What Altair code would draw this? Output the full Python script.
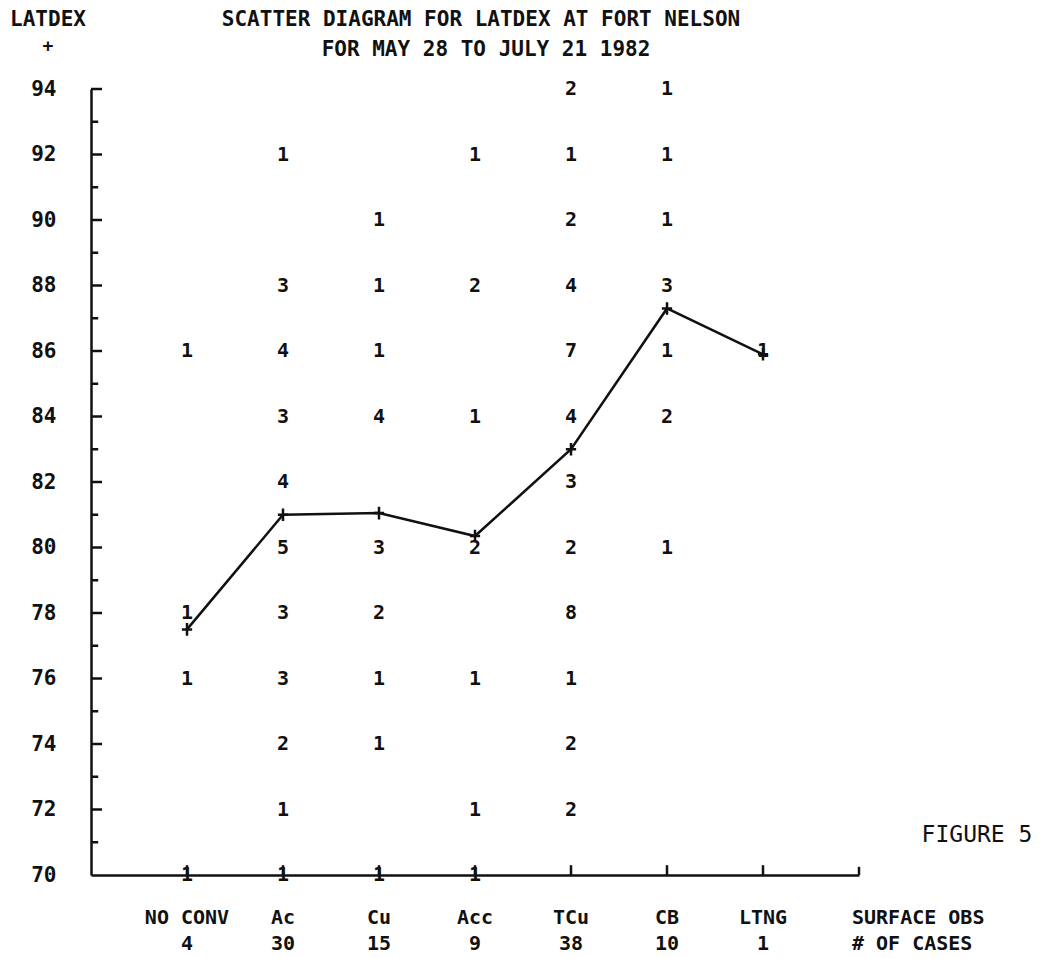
import altair as alt
import pandas as pd

# ---------------- data ----------------
categories = ["NO CONV", "Ac", "Cu", "Acc", "TCu", "CB", "LTNG"]
cases = [4, 30, 15, 9, 38, 10, 1]
mean_latdex = [77.5, 81.0, 81.05, 80.35, 83.0, 87.3, 85.9]

latdex_noconv = [86, 78, 76, 70]
count_noconv = [1, 1, 1, 1]
latdex_ac = [92, 88, 86, 84, 82, 80, 78, 76, 74, 72, 70]
count_ac = [1, 3, 4, 3, 4, 5, 3, 3, 2, 1, 1]
latdex_cu = [90, 88, 86, 84, 80, 78, 76, 74, 70]
count_cu = [1, 1, 1, 4, 3, 2, 1, 1, 1]
latdex_acc = [92, 88, 84, 80, 76, 72, 70]
count_acc = [1, 2, 1, 2, 1, 1, 1]
latdex_tcu = [94, 92, 90, 88, 86, 84, 82, 80, 78, 76, 74, 72]
count_tcu = [2, 1, 2, 4, 7, 4, 3, 2, 8, 1, 2, 2]
latdex_cb = [94, 92, 90, 88, 86, 84, 80]
count_cb = [1, 1, 1, 3, 1, 2, 1]
latdex_ltng = [86]
count_ltng = [1]

y_label_values = list(range(70, 95, 2))
y_tick_values = list(range(71, 95))

# ---------------- tables built from the arrays ----------------
cells = []
for i, (vals, cnts) in enumerate([
    (latdex_noconv, count_noconv), (latdex_ac, count_ac), (latdex_cu, count_cu),
    (latdex_acc, count_acc), (latdex_tcu, count_tcu), (latdex_cb, count_cb),
    (latdex_ltng, count_ltng)]):
    for v, c in zip(vals, cnts):
        cells.append({"pos": i + 1, "val": v, "n": str(c)})
df_cells = pd.DataFrame(cells)

df_mean = pd.DataFrame({"pos": list(range(1, len(categories) + 1)), "val": mean_latdex})
df_cat = pd.DataFrame({"pos": list(range(1, len(categories) + 1)),
                       "cat": categories, "n": [str(c) for c in cases]})

df_yt = pd.DataFrame({"val": y_tick_values,
                      "x0": [0.0] * len(y_tick_values),
                      "x1": [0.115 if v % 2 == 0 else 0.075 for v in y_tick_values]})
df_xt = pd.DataFrame({"pos": list(range(1, len(categories) + 1)) + [8],
                      "y0": [70] * (len(categories) + 1),
                      "y1": [70.3] * len(categories) + [70.25]})

FONT = "DejaVu Sans Mono"
INK = "#111111"

xscale = alt.Scale(domain=[0, 8], nice=False, zero=False)
yscale = alt.Scale(domain=[70, 94], nice=False, zero=False)

x_axis = alt.Axis(title=None, labels=False, ticks=False, tickSize=0, grid=False,
                  domain=True, domainColor=INK, domainWidth=2.5)
y_axis = alt.Axis(title=None, values=y_label_values, ticks=False, tickSize=0, grid=False,
                  domain=True, domainColor=INK, domainWidth=2.5,
                  labelFont=FONT, labelFontSize=21, labelFontWeight="bold",
                  labelColor=INK, labelPadding=35)


def X(field):
    return alt.X(field, scale=xscale, axis=x_axis)


def Y(field):
    return alt.Y(field, scale=yscale, axis=y_axis)


cell_text = alt.Chart(df_cells).mark_text(
    font=FONT, fontSize=20, fontWeight="bold", color=INK, align="center", baseline="middle"
).encode(x=X("pos:Q"), y=Y("val:Q"), text="n:N")

y_ticks = alt.Chart(df_yt).mark_rule(color=INK, strokeWidth=2.5).encode(
    x=X("x0:Q"), x2="x1:Q", y=Y("val:Q"))

x_ticks = alt.Chart(df_xt).mark_rule(color=INK, strokeWidth=2.5).encode(
    x=X("pos:Q"), y=Y("y0:Q"), y2="y1:Q")

mean_line = alt.Chart(df_mean).mark_line(color=INK, strokeWidth=2.5).encode(
    x=X("pos:Q"), y=Y("val:Q"))

mean_pts = alt.Chart(df_mean).mark_point(
    shape="M-0.9,0H0.9M0,-1.1V1.1", filled=False, color=INK, strokeWidth=2.5, size=130, opacity=1
).encode(x=X("pos:Q"), y=Y("val:Q"))

cat_text = alt.Chart(df_cat).mark_text(
    font=FONT, fontSize=20, fontWeight="bold", color=INK, align="center", baseline="middle"
).encode(x=X("pos:Q"), y=alt.value(829), text="cat:N")

n_text = alt.Chart(df_cat).mark_text(
    font=FONT, fontSize=20, fontWeight="bold", color=INK, align="center", baseline="middle"
).encode(x=X("pos:Q"), y=alt.value(855), text="n:N")

one = pd.DataFrame({"k": [0]})


def note(txt, x, y, size=21, weight="bold", align="center"):
    return alt.Chart(one).mark_text(
        text=txt, font=FONT, fontSize=size, fontWeight=weight, color=INK,
        align=align, baseline="middle"
    ).encode(x=alt.value(x), y=alt.value(y))


notes = [
    note("LATDEX", -43, -69),
    note("+", -43, -42, size=18),
    note("SCATTER DIAGRAM FOR LATDEX AT FORT NELSON", 390, -69),
    note("FOR MAY 28 TO JULY 21 1982", 395, -39),
    note("FIGURE 5", 886, 746, size=23, weight="normal"),
    note("SURFACE OBS", 761, 829, size=20, align="left"),
    note("# OF CASES", 761, 855, size=20, align="left"),
]

chart = alt.layer(
    cell_text, y_ticks, x_ticks, mean_line, mean_pts, cat_text, n_text, *notes
).properties(
    width=768,
    height=786,
    autosize=alt.AutoSizeParams(type="none"),
    padding={"left": 83, "top": 81, "right": 180, "bottom": 83},
    background="white",
).configure_view(stroke=None)

chart.save("out.html", embed_options={"renderer": "svg", "actions": False})
